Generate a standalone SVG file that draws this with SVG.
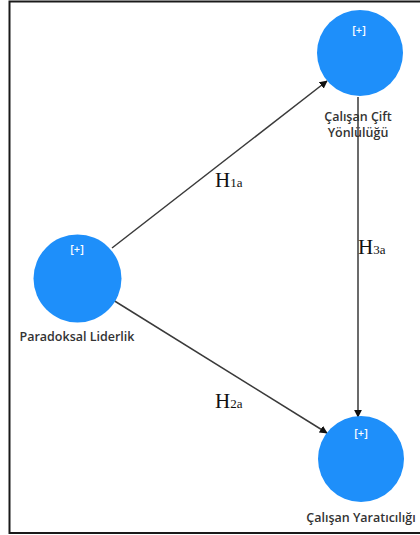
<svg xmlns="http://www.w3.org/2000/svg" width="420" height="535" viewBox="0 0 420 535">
  <style>
    .construct { fill: #1e8ffa; }
    .plus { font-family: "Open Sans", "Liberation Sans", Arial, sans-serif; font-size: 11px; fill: #ffffff; text-anchor: middle; font-weight: 600; }
    .name { font-family: "Open Sans", "Liberation Sans", Arial, sans-serif; font-size: 12.5px; fill: #333333; text-anchor: middle; font-weight: 600; }
    .path { stroke: #3a3a3a; stroke-width: 1.5; fill: none; marker-end: url(#head); }
    .hyp { font-family: "Liberation Serif", "Times New Roman", serif; font-size: 21px; fill: #111111; }
    .sub { font-size: 13px; }
  </style>
  <defs>
    <marker id="head" viewBox="0 0 10 10" refX="9" refY="5" markerWidth="8" markerHeight="8" markerUnits="userSpaceOnUse" orient="auto">
      <path d="M0,0 L10,5 L0,10 z" fill="#111111"/>
    </marker>
  </defs>

  <rect x="0" y="0" width="420" height="535" fill="#ffffff"/>
  <!-- outer frame, open on the right -->
  <path d="M430,1.5 H9.5 V533 H430" fill="none" stroke="#1a1a1a" stroke-width="2"/>

  <g id="connectors">
    <line class="path" x1="112" y1="248" x2="327" y2="81"/>
    <line class="path" x1="113" y1="300" x2="327" y2="433"/>
    <line class="path" x1="358" y1="97" x2="358" y2="417"/>
  </g>

  <g id="hypotheses">
    <text class="hyp" x="215" y="187">H<tspan class="sub">1a</tspan></text>
    <text class="hyp" x="215" y="408">H<tspan class="sub">2a</tspan></text>
    <text class="hyp" x="358" y="254">H<tspan class="sub">3a</tspan></text>
  </g>

  <g id="paradoksal-liderlik">
    <circle class="construct" cx="77.5" cy="278.5" r="44"/>
    <text class="plus" x="77" y="253">[+]</text>
    <text class="name" x="77" y="341">Paradoksal Liderlik</text>
  </g>

  <g id="calisan-cift-yonlulugu">
    <circle class="construct" cx="360" cy="53" r="43"/>
    <text class="plus" x="359" y="34">[+]</text>
    <text class="name" x="358" y="121">Çalışan Çift</text>
    <text class="name" x="358" y="137">Yönlülüğü</text>
  </g>

  <g id="calisan-yaraticiligi">
    <circle class="construct" cx="361" cy="459" r="43"/>
    <text class="plus" x="361" y="437">[+]</text>
    <text class="name" x="361" y="522">Çalışan Yaratıcılığı</text>
  </g>
</svg>
